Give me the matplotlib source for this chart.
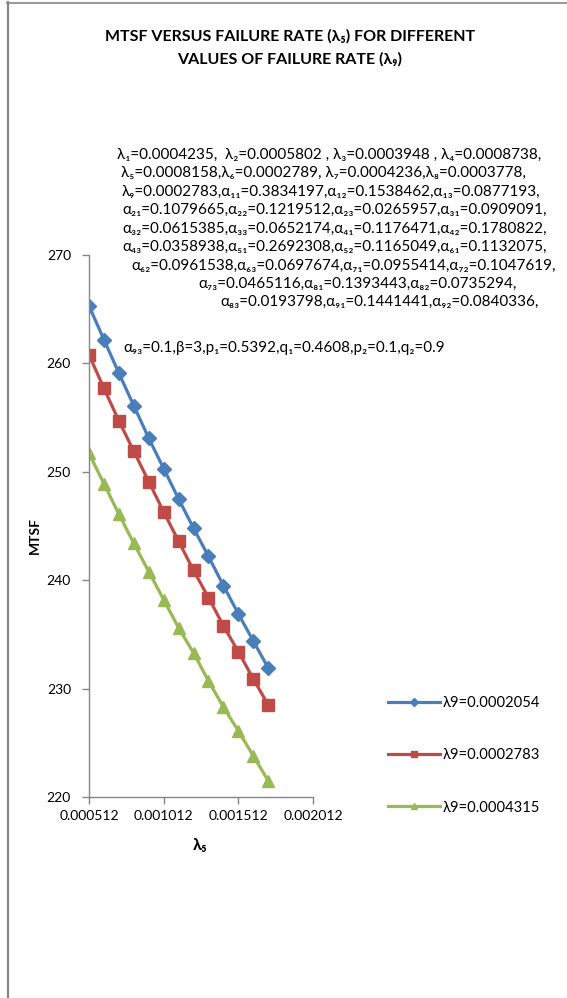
import matplotlib
matplotlib.use("Agg")
import matplotlib.pyplot as plt
from matplotlib.lines import Line2D

plt.rcParams['font.family'] = ['Lato', 'DejaVu Sans']

# ---- data ----
lambda5 = [0.000512, 0.000612, 0.000712, 0.000812, 0.000912, 0.001012, 0.001112,
           0.001212, 0.001312, 0.001412, 0.001512, 0.001612, 0.001712]
mtsf_a = [265.3, 262.2, 259.1, 256.1, 253.1, 250.3, 247.5, 244.8, 242.2, 239.5, 236.9, 234.4, 231.9]
mtsf_b = [260.8, 257.7, 254.7, 251.9, 249.1, 246.3, 243.6, 240.9, 238.4, 235.8, 233.4, 230.9, 228.5]
mtsf_c = [251.7, 248.9, 246.1, 243.4, 240.8, 238.2, 235.6, 233.3, 230.7, 228.3, 226.1, 223.8, 221.5]
series_labels = ['λ9=0.0002054', 'λ9=0.0002783', 'λ9=0.0004315']
x_ticks = [0.000512, 0.001012, 0.001512, 0.002012]
x_tick_labels = ['0.000512', '0.001012', '0.001512', '0.002012']
y_ticks = [220, 230, 240, 250, 260, 270]

title_lines = ['MTSF VERSUS FAILURE RATE (λ\u2085) FOR DIFFERENT',
               'VALUES OF FAILURE RATE (λ\u2089)']
param_lines = [
    'λ\u2081=0.0004235,  λ\u2082=0.0005802 , λ\u2083=0.0003948 , λ\u2084=0.0008738,',
    'λ\u2085=0.0008158,λ\u2086=0.0002789, λ\u2087=0.0004236,λ\u2088=0.0003778,',
    'λ\u2089=0.0002783,α\u2081\u2081=0.3834197,α\u2081\u2082=0.1538462,α\u2081\u2083=0.0877193,',
    'α\u2082\u2081=0.1079665,α\u2082\u2082=0.1219512,α\u2082\u2083=0.0265957,α\u2083\u2081=0.0909091,',
    'α\u2083\u2082=0.0615385,α\u2083\u2083=0.0652174,α\u2084\u2081=0.1176471,α\u2084\u2082=0.1780822,',
    'α\u2084\u2083=0.0358938,α\u2085\u2081=0.2692308,α\u2085\u2082=0.1165049,α\u2086\u2081=0.1132075,',
    'α\u2086\u2082=0.0961538,α\u2086\u2083=0.0697674,α\u2087\u2081=0.0955414,α\u2087\u2082=0.1047619,',
    'α\u2087\u2083=0.0465116,α\u2088\u2081=0.1393443,α\u2088\u2082=0.0735294,',
    'α\u2088\u2083=0.0193798,α\u2089\u2081=0.1441441,α\u2089\u2082=0.0840336,',
    'α\u2089\u2083=0.1,β=3,p\u2081=0.5392,q\u2081=0.4608,p\u2082=0.1,q\u2082=0.9',
]
param_x = [117, 121, 122, 122, 122, 122, 131, 198, 220, 123]
param_y = [155, 173, 192, 210, 229, 247, 266, 284, 302, 348]

W, H = 567, 998
fig = plt.figure(figsize=(W / 100, H / 100), dpi=100)

# border lines (left and top)
fig.add_artist(Line2D([7.5 / W, 7.5 / W], [0, 1 - 2 / H], color='#868686', lw=1.6))
fig.add_artist(Line2D([7 / W, 1], [1 - 2.5 / H, 1 - 2.5 / H], color='#868686', lw=1.2))

ax = fig.add_axes([89 / W, 1 - 797 / H, (313 - 89) / W, (797 - 255) / H])
colors = ['#4A7EBB', '#BE4B48', '#98B954']
markers = ['D', 's', '^']
msizes = [7.2, 8.2, 8.2]
for ys, c, m, ms, lab in zip([mtsf_a, mtsf_b, mtsf_c], colors, markers, msizes, series_labels):
    ax.plot(lambda5, ys, color=c, lw=2.3, marker=m, markersize=ms, label=lab,
            markeredgecolor=c, markerfacecolor=c)

ax.set_xlim(0.000512, 0.002012)
ax.set_ylim(220, 270)
ax.set_xticks(x_ticks)
ax.set_xticklabels(x_tick_labels)
ax.set_yticks(y_ticks)
for s in ['top', 'right']:
    ax.spines[s].set_visible(False)
for s in ['left', 'bottom']:
    ax.spines[s].set_color('#868686')
    ax.spines[s].set_linewidth(1.0)
ax.tick_params(axis='both', colors='#868686', labelcolor='black', labelsize=10,
               direction='out', length=5, width=1)
ax.tick_params(axis='y', pad=8)
ax.tick_params(axis='x', pad=4)

fig.text(35 / W, 1 - 535 / H, 'MTSF', rotation=90, ha='center', va='center',
         fontsize=10, fontweight='bold')
fig.text(200 / W, 1 - 845 / H, 'λ\u2085', ha='center', va='center',
         fontsize=12, fontweight='bold')

fig.text(290 / W, 1 - 36 / H, title_lines[0], ha='center', va='center',
         fontsize=11.5, fontweight='bold')
fig.text(290 / W, 1 - 59 / H, title_lines[1], ha='center', va='center',
         fontsize=11.5, fontweight='bold')

for t, px, py in zip(param_lines, param_x, param_y):
    fig.text(px / W, 1 - py / H, t, ha='left', va='center', fontsize=11)

leg = fig.legend(loc='upper left', bbox_to_anchor=(388 / W, 1 - 696 / H),
                 frameon=False, fontsize=10.6, handlelength=3.5, handletextpad=0.2,
                 labelspacing=2.6, markerscale=0.55, borderpad=0, borderaxespad=0)

fig.savefig('out.png', dpi=100)
